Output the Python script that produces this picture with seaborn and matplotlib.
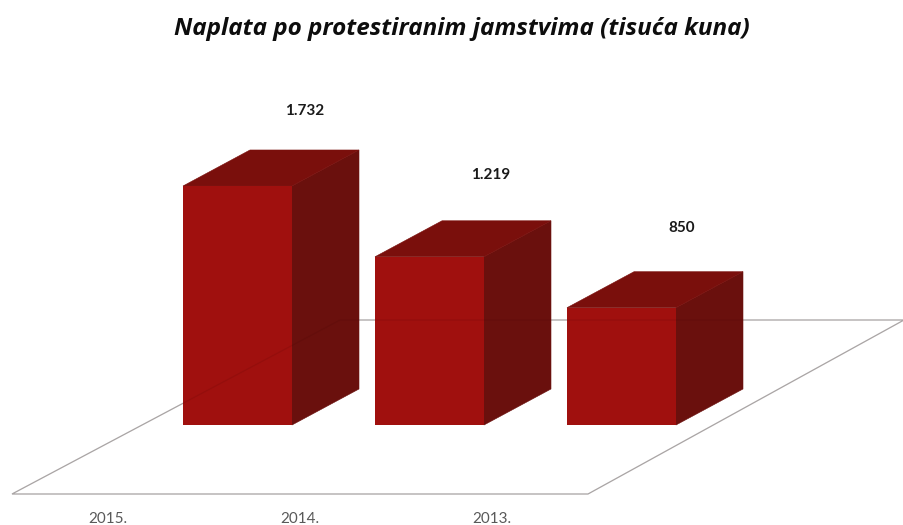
#!/usr/bin/env python3
"""Naplata po protestiranim jamstvima - 3D look bars on a floor."""

import matplotlib

matplotlib.use("Agg", force=True)
import matplotlib.pyplot as plt
import pandas as pd
import seaborn as sns
from matplotlib.patches import Polygon
from matplotlib.transforms import ScaledTranslation

years = ["2015.", "2014.", "2013."]
values = [1732, 1219, 850]
value_labels = ["1.732", "1.219", "850"]

W, H, DPI = 904, 525, 100
FLOOR_FRONT = 494
BASE_PX = 425          # pixel row of value 0
PX_PER_VALUE = 0.138
PX_PER_CAT = 192
FIRST_BAR_PX = 237.5

FRONT = "#a0100e"
SIDE = "#6a100d"
TOP = "#7a0f0c"

sns.set_theme(style="white")
plt.rcParams["font.family"] = ["Lato", "DejaVu Sans"]

fig = plt.figure(figsize=(W / DPI, H / DPI), dpi=DPI)
ax = fig.add_axes([0, (H - FLOOR_FRONT) / H, 1, FLOOR_FRONT / H])

df = pd.DataFrame({"year": years, "value": values})
sns.barplot(data=df, x="year", y="value", color=FRONT, saturation=1, width=109 / PX_PER_CAT,
            linewidth=0, zorder=2, ax=ax)

ax.set_xlim(-FIRST_BAR_PX / PX_PER_CAT, (W - FIRST_BAR_PX) / PX_PER_CAT)
ax.set_ylim((BASE_PX - FLOOR_FRONT) / PX_PER_VALUE, BASE_PX / PX_PER_VALUE)
ax.set(xlabel="", ylabel="")
ax.set_yticks([])
ax.tick_params(axis="x", length=0, pad=13, labelsize=11, labelcolor="#595959")
sns.despine(ax=ax, left=True, bottom=True)


def to_data(px, py):
    return (px - FIRST_BAR_PX) / PX_PER_CAT, (BASE_PX - py) / PX_PER_VALUE


# side and top faces come from the bars seaborn drew
dx = 67 / PX_PER_CAT
dy = 36 / PX_PER_VALUE
for bar in list(ax.patches):
    x0 = bar.get_x()
    x1 = x0 + bar.get_width()
    top = bar.get_height()
    ax.add_patch(Polygon([(x1, 0), (x1 + dx, dy), (x1 + dx, top + dy), (x1, top)],
                         facecolor=SIDE, edgecolor=SIDE, linewidth=0.4, zorder=1.9))
    ax.add_patch(Polygon([(x0, top), (x1, top), (x1 + dx, top + dy), (x0 + dx, top + dy)],
                         facecolor=TOP, edgecolor=TOP, linewidth=0.4, zorder=1.9))

# floor outline, plus a faint copy that shows through the boxes
floor = [to_data(12, 494), to_data(588, 494), to_data(904, 320), to_data(340, 320)]
ax.add_patch(Polygon(floor, closed=True, fill=False, edgecolor="#b8b8b8", linewidth=0.9,
                     zorder=1, clip_on=False))
ax.add_patch(Polygon(floor, closed=True, fill=False, edgecolor="#300000", linewidth=0.9,
                     alpha=0.1, zorder=3, clip_on=False))

# value labels float up and to the right of each box
label_offsets = [(67, 75), (61, 82), (60, 80)]
for i, (val, txt) in enumerate(zip(values, value_labels)):
    off_x, off_y = label_offsets[i]
    ax.annotate(txt, (i, val), xytext=(off_x * 72 / DPI, off_y * 72 / DPI),
                textcoords="offset points", ha="center", va="center",
                fontsize=11, fontweight="bold", color="#1a1a1a")

# year labels sit left of their bars in the original
shift = ScaledTranslation(-130 / DPI, 0, fig.dpi_scale_trans)
for lab in ax.get_xticklabels():
    lab.set_transform(lab.get_transform() + shift)

fig.text(462 / W, 1 - 29 / H, "Naplata po protestiranim jamstvima (tisuća kuna)",
         ha="center", va="center", fontsize=17.5, fontweight="bold", fontstyle="italic",
         family=["Open Sans", "DejaVu Sans"], color="#0d0d0d")

fig.savefig("out.png", dpi=DPI)
